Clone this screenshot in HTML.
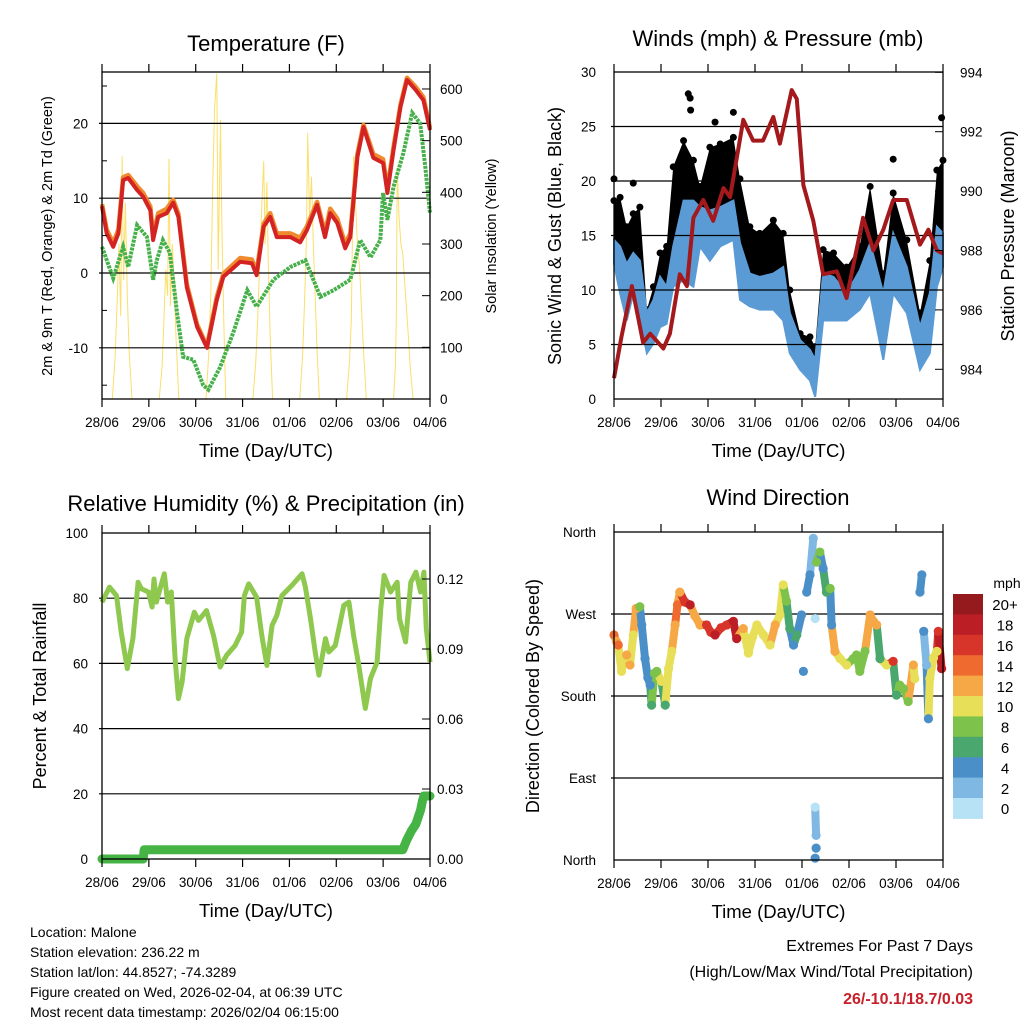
<!DOCTYPE html>
<html><head><meta charset="utf-8">
<style>
html,body{margin:0;padding:0;background:#fff;}
svg{display:block;font-family:"Liberation Sans",sans-serif;}
</style></head>
<body>
<svg id="fig" width="1024" height="1024" viewBox="0 0 1024 1024" xmlns="http://www.w3.org/2000/svg">
<g id="g1"></g>
<g id="g2"></g>
<g id="g3"></g>
<g id="g4"></g>
<g id="txt">
<text x="30" y="937" font-size="14">Location: Malone</text>
<text x="30" y="957" font-size="14">Station elevation: 236.22 m</text>
<text x="30" y="977" font-size="14">Station lat/lon: 44.8527; -74.3289</text>
<text x="30" y="997" font-size="14">Figure created on Wed, 2026-02-04, at 06:39 UTC</text>
<text x="30" y="1017" font-size="14">Most recent data timestamp: 2026/02/04 06:15:00</text>
<text x="973" y="951" font-size="16" text-anchor="end">Extremes For Past 7 Days</text>
<text x="973" y="977" font-size="16" text-anchor="end">(High/Low/Max Wind/Total Precipitation)</text>
<text x="973" y="1004" font-size="16" font-weight="bold" fill="#c8202a" text-anchor="end">26/-10.1/18.7/0.03</text>
</g>
</svg>
<script>
// ---------- DATA ----------
const dayLabels = ["28/06","29/06","30/06","31/06","01/06","02/06","03/06","04/06"];
// Temperature panel
const tempT = [0,0.1,0.24,0.35,0.45,0.56,0.75,0.88,1.03,1.09,1.2,1.38,1.52,1.63,1.81,2.03,2.24,2.45,2.59,2.95,3.2,3.3,3.45,3.59,3.73,4.02,4.23,4.37,4.59,4.76,4.87,5.02,5.19,5.3,5.45,5.58,5.79,6.0,6.09,6.22,6.37,6.51,6.69,6.86,7.0];
const tempRed = [8.9,5.3,3.5,5.3,12.4,12.7,11.1,10.2,8.4,4.4,7.5,8,9.4,7.5,-1.9,-7.2,-10,-3.6,-0.5,1.5,1.3,-0.3,6.2,7.5,4.8,4.8,4.1,5.7,9.1,4.8,8,6.7,3.3,4.8,15.5,19.5,15.4,14.7,10.7,16.4,22.2,25.8,24.5,23.1,19.1];
const tempOrange = [9.2,5.8,4.0,5.8,12.8,13.1,11.6,10.7,8.9,5.0,8.0,8.6,9.8,7.9,-1.5,-6.9,-9.8,-3.2,-0.1,2.0,1.8,0.2,6.6,8.0,5.3,5.3,4.7,6.2,9.5,5.4,8.6,7.3,3.9,5.3,15.9,19.8,15.9,15.2,11.2,16.8,22.5,26.1,24.9,23.5,19.4];
const dewT = [0,0.24,0.45,0.56,0.75,0.96,1.09,1.17,1.3,1.45,1.6,1.73,1.95,2.16,2.27,2.52,2.8,3.1,3.3,3.66,4.02,4.34,4.66,4.94,5.3,5.51,5.73,5.94,6.0,6.09,6.22,6.43,6.62,6.79,6.9,7.0];
const dewV = [3.5,-0.7,3.5,0.8,6.4,4.8,-0.9,1.7,4.4,2.7,-5.3,-11.2,-11.6,-15,-15.6,-12.6,-8,-2.3,-4.5,-0.9,0.8,1.7,-3.2,-2.3,-0.9,4.4,2.1,4.4,10.7,7.1,11.5,16,21.4,20,14.2,8];
const solarT = [0.22,0.28,0.32,0.36,0.40,0.43,0.46,0.50,0.54,0.58,0.64,
 1.22,1.28,1.32,1.36,1.40,1.43,1.46,1.50,1.54,1.58,1.64,
 2.22,2.28,2.32,2.36,2.40,2.45,2.48,2.53,2.56,2.60,2.64,
 3.22,3.28,3.32,3.36,3.40,3.45,3.48,3.52,3.55,3.59,3.64,
 4.22,4.28,4.32,4.36,4.39,4.43,4.47,4.51,4.55,4.59,4.64,
 5.22,5.28,5.32,5.34,5.37,5.41,5.45,5.50,5.55,5.59,5.64,
 6.22,6.26,6.28,6.30,6.34,6.38,6.42,6.48,6.54,6.58,6.64];
const solarV = [0,80,180,300,160,470,230,380,200,90,0,
 0,60,150,250,200,465,180,300,220,120,0,
 0,90,200,400,560,630,250,540,320,150,0,
 0,70,150,250,350,460,300,420,260,120,0,
 0,80,180,300,515,350,430,300,200,90,0,
 0,70,150,280,470,380,300,250,150,80,0,
 0,60,150,445,350,300,280,200,120,60,0];
// Winds panel
const windT = [0,0.13,0.27,0.41,0.55,0.7,0.84,0.98,1.12,1.26,1.48,1.69,1.83,2.04,2.26,2.54,2.68,2.89,3.1,3.39,3.6,3.74,3.96,4.17,4.28,4.45,4.67,4.95,5.23,5.45,5.73,5.94,6.23,6.51,6.72,6.87,7.0];
const windHi = [14.6,14,12.4,13.4,12.7,7.9,9.1,11.2,10.3,14,18.2,18.2,17.6,17.3,17.6,18.2,14.3,11.5,11.2,11.5,12.1,7.9,5.4,4.5,3.6,11.5,11.2,9.7,11.8,14.3,9.7,15.2,12.1,6.6,9.7,15.8,15.2];
const windLo = [12.4,9.7,7.2,9.7,7.2,4.2,5.1,6.6,6.9,10.3,10.9,10.3,14,12.7,14,14.6,9.1,8.5,8.2,8.2,7.2,4.2,2.7,1.7,0.2,7.2,7.2,7.2,8.2,9.7,3.6,9.7,7.9,2.7,4.2,10.3,12.1];
const gustHi = [18.2,18.5,15.8,17,17.6,8.2,10.3,13.4,14,21.3,23.7,21.9,19.5,23.1,23.4,24,20.2,15.8,15.2,16.4,15.2,10,6,5.7,4.8,13.7,13.4,12.1,14,19.5,11.5,18.9,14.6,7.9,12.7,21,21.9];
const gustOutT = [0,0.41,1.58,1.62,1.63,2.15,2.54,5.94,6.97];
const gustOutV = [20.2,19.8,28,27.6,26.5,25.4,26.3,22,25.8];
const presT = [0,0.16,0.38,0.62,0.77,1.05,1.19,1.4,1.55,1.69,1.9,2.11,2.33,2.47,2.75,2.96,3.17,3.39,3.53,3.78,3.89,4.03,4.24,4.45,4.74,4.95,5.3,5.52,5.73,5.94,6.23,6.51,6.69,6.87,7.0];
const presV = [983.7,985.1,986.8,984.9,985.2,984.7,985.2,987.2,986.8,989.1,989.7,989.0,990.1,989.8,992.4,991.7,991.7,992.5,991.6,993.4,993.1,990.2,989.0,987.2,987.3,986.4,989.1,988.0,988.7,989.7,989.7,988.2,988.7,988.0,987.9];
// Humidity panel
const rhT = [0,0.16,0.31,0.41,0.54,0.66,0.77,0.84,0.99,1.07,1.11,1.16,1.23,1.33,1.4,1.48,1.56,1.63,1.71,1.81,1.97,2.06,2.23,2.38,2.52,2.66,2.84,2.98,3.04,3.13,3.3,3.41,3.52,3.63,3.73,3.84,4.05,4.27,4.34,4.45,4.55,4.63,4.77,4.84,4.98,5.16,5.27,5.37,5.48,5.62,5.73,5.87,5.95,6.02,6.16,6.3,6.35,6.48,6.59,6.7,6.8,6.87,6.92,7.0];
const rhV = [78.8,83.4,80.8,69.6,58.4,67.6,84.9,82.9,81.9,77.3,85.9,78.8,82.4,87.5,78.8,81.9,61.5,49.2,54.3,67.6,75.7,73.2,76.2,68.6,58.9,62.5,65.5,69.6,80.8,84.4,80.3,68.6,59.4,71.7,74.7,80.8,83.9,87.5,83.4,73.7,63.5,56.4,67.6,63.5,65.5,77.8,78.8,68.6,59.4,46.2,55.4,60.4,76.8,87,81.9,84.9,73.7,66.6,84.9,88,81.9,88,70.6,60.4];
const precT = [0,0.88,0.9,6.42,6.5,6.6,6.7,6.8,6.84,6.87,7.0];
const precV = [0,0,0.004,0.004,0.008,0.012,0.015,0.021,0.025,0.027,0.027];
// Wind direction panel
const dirT = [0,0.05,0.09,0.16,0.2,0.27,0.34,0.41,0.47,0.55,0.59,0.66,0.72,0.77,0.8,0.86,0.91,1.01,1.09,1.16,1.23,1.3,1.35,1.4,1.51,1.62,1.72,1.83,1.97,2.06,2.15,2.28,2.4,2.54,2.61,2.75,2.86,2.95,3.04,3.18,3.32,3.43,3.53,3.6,3.67,3.74,3.82,3.89,3.99,4.03,4.1,4.17,4.24,4.28,4.31,4.38,4.45,4.52,4.6,4.63,4.7,4.81,4.95,5.09,5.16,5.23,5.34,5.45,5.52,5.59,5.66,5.8,5.94,6.01,6.08,6.16,6.26,6.37,6.4,6.51,6.55,6.59,6.65,6.69,6.72,6.8,6.87,6.9,6.97,4.28,4.3,4.3,4.28];
const dirV = [247,240,236,207,221,225,214,247,276,278,258,221,200,192,170,205,207,196,170,210,229,258,280,294,283,280,268,258,258,250,247,255,258,262,243,254,227,245,258,247,236,258,269,302,284,254,236,247,269,207,294,313,353,265,327,338,320,294,298,258,229,221,214,221,225,207,229,269,262,258,221,214,218,181,192,188,174,214,199,294,313,251,214,155,199,222,229,251,210,58,27,13,2];
const dirS = [14,12,14,10,10,12,12,10,12,8,4,4,4,4,6,8,8,10,6,10,10,12,14,12,16,18,12,12,16,16,18,16,16,18,18,12,10,10,10,10,10,12,10,10,8,6,4,6,4,4,4,4,2,0,8,8,4,6,8,4,12,10,10,8,8,8,8,12,12,12,6,10,16,6,8,8,8,12,10,4,4,4,2,4,10,10,10,16,18,0,2,4,4];
const cbLabels = ["20+","18","16","14","12","10","8","6","4","2","0"];
const cbColors = ["#951a1d","#bb1e25","#d8352a","#ef6a2e","#f6a846","#e8df58","#7dc24b","#4aa86f","#4a8fc7","#7fb8e3","#b7e2f6"];

// ---------- HELPERS ----------
const NS = "http://www.w3.org/2000/svg";
function mk(parent, tag, attrs){ const e=document.createElementNS(NS,tag); for(const k in attrs) e.setAttribute(k,attrs[k]); parent.appendChild(e); return e; }
function txt(parent, x, y, s, size, anchor, rot){
  const e=mk(parent,"text",{x:x,y:y,"font-size":size,"text-anchor":anchor||"middle"});
  if(rot) e.setAttribute("transform","rotate("+rot+" "+x+" "+y+")");
  e.textContent=s; return e;
}
function linePath(ts, vs, xf, yf){ return ts.map((t,i)=>(i?"L":"M")+xf(t).toFixed(1)+","+yf(vs[i]).toFixed(1)).join(" "); }

function frame(g, L, T, R, B, xf){
  const ax=mk(g,"rect",{x:L,y:T,width:R-L,height:B-T,fill:"none",stroke:"#000","stroke-width":1.3});
  
  
  dayLabels.forEach((lab,i)=>{
    const x=xf(i);
    const tb=mk(g,"line",{x1:x,y1:B,x2:x,y2:B+8,stroke:"#000","stroke-width":1.2});
    
    
    const tt=mk(g,"line",{x1:x,y1:T,x2:x,y2:T-8,stroke:"#000","stroke-width":1.2});
    
    
    const l=txt(g,x,B+28,lab,13.5);
    
    
  });
  const xt=txt(g,(L+R)/2,B+58,"Time (Day/UTC)",18.5);
  
  
}
function grid(g, L, R, y){
  const e=mk(g,"line",{x1:L-3,y1:y,x2:R,y2:y,stroke:"#000","stroke-width":1.2});
  
  
}

// ---------- PANEL 1: TEMPERATURE ----------
(function(){
  const g=document.getElementById("g1");
  const L=102,R=430,T=72,B=399;
  const x=d=>L+d*(R-L)/7, y=v=>273-v*7.48, ys=v=>399-v*0.5167;
  const sol=mk(g,"path",{d:linePath(solarT,solarV,x,ys),fill:"none",stroke:"#f9dc5a","stroke-width":1,opacity:0.9});
  
  
  [20,10,0,-10].forEach(v=>grid(g,L,R,y(v)));
  const dw=mk(g,"path",{d:linePath(dewT,dewV,x,y),fill:"none",stroke:"#46b04a","stroke-width":4,"stroke-dasharray":"3 1"});
  
  
  const or=mk(g,"path",{d:linePath(tempT,tempOrange,x,y),fill:"none",stroke:"#f08a2e","stroke-width":4.5,"stroke-linejoin":"round"});
  
  
  const rd=mk(g,"path",{d:linePath(tempT,tempRed,x,y),fill:"none",stroke:"#d42323","stroke-width":4,"stroke-linejoin":"round"});
  
  
  frame(g,L,T,R,B,x);
  [20,10,0,-10].forEach(v=>{
    const t=txt(g,88,y(v)+5,String(v),13.5,"end");
    
    
  });
  [-15,-5,5,15,25].forEach(v=>{
    const t=mk(g,"line",{x1:L,y1:y(v),x2:L+5,y2:y(v),stroke:"#000"});
    
    
  });
  [0,100,200,300,400,500,600].forEach(v=>{
    const t=mk(g,"line",{x1:R,y1:ys(v),x2:R-8,y2:ys(v),stroke:"#000"});
    
    
    const l=txt(g,440,ys(v)+5,String(v),13.5,"start");
    
    
  });
  const t1=txt(g,266,51,"Temperature (F)",22);
  
  
  const yl=txt(g,52,236,"2m & 9m T (Red, Orange) & 2m Td (Green)",14.5,"middle",-90);
  
  
  const yr=txt(g,496,236,"Solar Insolation (Yellow)",14.5,"middle",-90);
  
  
})();

// ---------- PANEL 2: WINDS ----------
(function(){
  const g=document.getElementById("g2");
  const L=614,R=943,T=72,B=399;
  const x=d=>L+d*(R-L)/7, y=v=>399-v*10.9, yp=p=>399-(p-983)*29.7;
  const up=windT.map((t,i)=>x(t).toFixed(1)+","+y(gustHi[i]).toFixed(1));
  const mid=windT.map((t,i)=>x(t).toFixed(1)+","+y(windHi[i]).toFixed(1)).reverse();
  const ga=mk(g,"polygon",{points:up.concat(mid).join(" "),fill:"#000"});
  
  
  windT.forEach((t,i)=>{
    const c=mk(g,"circle",{cx:x(t),cy:y(gustHi[i]),r:3.5,fill:"#000"});
    
    
  });
  gustOutT.forEach((t,i)=>{
    const c=mk(g,"circle",{cx:x(t),cy:y(gustOutV[i]),r:3.5,fill:"#000"});
    
    
  });
  const hi=windT.map((t,i)=>x(t).toFixed(1)+","+y(windHi[i]).toFixed(1));
  const lo=windT.map((t,i)=>x(t).toFixed(1)+","+y(windLo[i]).toFixed(1)).reverse();
  const ba=mk(g,"polygon",{points:hi.concat(lo).join(" "),fill:"#5b9bd5",stroke:"#5b9bd5","stroke-width":2});
  
  
  [25,20,15,10,5].forEach(v=>grid(g,L,R,y(v)));
  const pr=mk(g,"path",{d:linePath(presT,presV,x,yp),fill:"none",stroke:"#a3191c","stroke-width":4,"stroke-linejoin":"round"});
  
  
  frame(g,L,T,R,B,x);
  [0,5,10,15,20,25,30].forEach(v=>{
    const l=txt(g,596,y(v)+5,String(v),13.5,"end");
    
    
  });
  [984,986,988,990,992,994].forEach(p=>{
    const t=mk(g,"line",{x1:R,y1:yp(p),x2:R-8,y2:yp(p),stroke:"#000"});
    
    
    const l=txt(g,960,yp(p)+5,String(p),13.5,"start");
    
    
  });
  const t2=txt(g,778,46,"Winds (mph) & Pressure (mb)",22);
  
  
  const yl=txt(g,561,236,"Sonic Wind & Gust (Blue, Black)",18,"middle",-90);
  
  
  const yr=txt(g,1014,236,"Station Pressure (Maroon)",18,"middle",-90);
  
  
})();

// ---------- PANEL 3: HUMIDITY ----------
(function(){
  const g=document.getElementById("g3");
  const L=102,R=430,T=533,B=859;
  const x=d=>L+d*(R-L)/7, y=v=>859-v*3.26, yp=p=>859-p*(70/0.03);
  [80,60,40,20].forEach(v=>grid(g,L,R,y(v)));
  const rh=mk(g,"path",{d:linePath(rhT,rhV,x,y),fill:"none",stroke:"#8fc84f","stroke-width":5,"stroke-linejoin":"round"});
  
  
  const pc=mk(g,"path",{d:linePath(precT,precV,x,yp),fill:"none",stroke:"#45b445","stroke-width":9,"stroke-linecap":"round","stroke-linejoin":"round"});
  
  
  frame(g,L,T,R,B,x);
  [0,20,40,60,80,100].forEach(v=>{
    const l=txt(g,88,y(v)+5,String(v),13.5,"end");
    
    
  });
  ["0.00","0.03","0.06","0.09","0.12"].forEach(s=>{
    const p=parseFloat(s);
    const t=mk(g,"line",{x1:R,y1:yp(p),x2:R-8,y2:yp(p),stroke:"#000"});
    
    
    const l=txt(g,437,yp(p)+5,s,13.5,"start");
    
    
  });
  const t3=txt(g,266,511,"Relative Humidity (%) & Precipitation (in)",22);
  
  
  const yl=txt(g,46,696,"Percent & Total Rainfall",18,"middle",-90);
  
  
})();

// ---------- PANEL 4: WIND DIRECTION ----------
(function(){
  const g=document.getElementById("g4");
  const L=614,R=943,T=532,B=860;
  const x=d=>L+d*(R-L)/7, y=v=>860-v*0.9111;
  const ci=s=>10-Math.min(10,Math.floor((s+1)/2));
  [270,180,90].forEach(v=>grid(g,L,R,y(v)));
  for(let i=1;i<dirT.length;i++){
    if(dirT[i]-dirT[i-1]>0 && dirT[i]-dirT[i-1]<0.2 && Math.abs(dirV[i]-dirV[i-1])<60){
      const s=mk(g,"line",{x1:x(dirT[i-1]),y1:y(dirV[i-1]),x2:x(dirT[i]),y2:y(dirV[i]),stroke:cbColors[ci(dirS[i])],"stroke-width":8,"stroke-linecap":"round"});
      
      
    }
  }
  dirT.forEach((t,i)=>{
    const c=mk(g,"circle",{cx:x(t),cy:y(dirV[i]),r:4.6,fill:cbColors[ci(dirS[i])]});
    
    
  });
  frame(g,L,T,R,B,x);
  ["North","East","South","West","North"].forEach((s,i)=>{
    const l=txt(g,596,y(i*90)+5,s,13.5,"end");
    
    
  });
  const t4=txt(g,778,505,"Wind Direction",22);
  
  
  const yl=txt(g,539,696,"Direction (Colored By Speed)",18,"middle",-90);
  
  
  const cbTop=594, h=20.4;
  cbColors.forEach((c,i)=>{
    const r=mk(g,"rect",{x:953,y:cbTop+i*h,width:30,height:h+0.5,fill:c});
    
    
    const l=txt(g,1005,cbTop+i*h+h/2+6,cbLabels[i],15);
    
    
  });
  const u=txt(g,1007,588,"mph",14);
  
  
})();
</script>
</body></html>
